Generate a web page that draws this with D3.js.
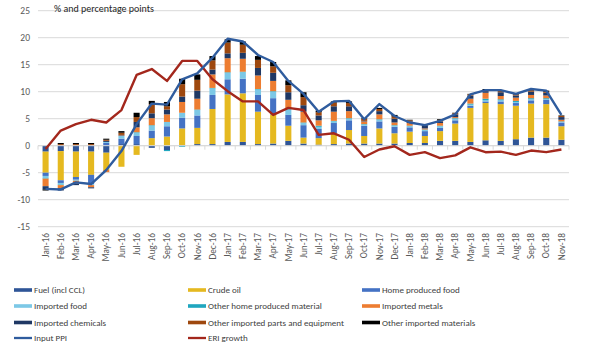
<!DOCTYPE html>
<html><head><meta charset="utf-8">
<script src="https://cdn.jsdelivr.net/npm/d3@7"></script>
<style>
body{margin:0;background:#fff;}
svg{display:block;font-family:Calibri,"Liberation Sans",Carlito,Arial,sans-serif;}
</style></head>
<body><svg id="c" width="600" height="356"></svg>
<script>
const months = ["Jan-16","Feb-16","Mar-16","Apr-16","May-16","Jun-16","Jul-16","Aug-16","Sep-16","Oct-16","Nov-16","Dec-16",
"Jan-17","Feb-17","Mar-17","Apr-17","May-17","Jun-17","Jul-17","Aug-17","Sep-17","Oct-17","Nov-17","Dec-17",
"Jan-18","Feb-18","Mar-18","Apr-18","May-18","Jun-18","Jul-18","Aug-18","Sep-18","Oct-18","Nov-18"];
const seriesNames = ["Fuel (incl CCL)","Crude oil","Home produced food","Imported food","Other home produced material","Imported metals","Imported chemicals","Other imported parts and equipment","Other imported materials"];
const fuel = [-1.1,-1.0,-1.1,-1.1,-1.3,0.3,0.3,-0.4,-0.8,0.1,0.3,0.3,0.7,0.7,0.3,0.4,0.9,0.4,0.2,0.3,0.4,0.4,0.4,0.4,0.5,0.5,0.9,0.9,0.7,1.0,0.9,1.2,1.5,1.5,1.1];
const crudeOil = [-3.9,-5.4,-4.7,-4.3,-3.2,-3.9,-1.7,1.4,1.7,3.1,3.0,6.5,8.8,9.0,6.0,5.4,2.8,1.1,1.2,2.0,2.5,1.4,2.8,1.9,2.1,1.3,1.8,3.2,6.3,6.9,6.8,6.2,6.3,6.2,2.5];
const homeFood = [-0.6,-0.5,-0.5,-1.7,0.5,1.0,1.5,1.4,1.9,2.0,2.3,2.6,2.8,2.7,3.1,3.0,2.0,2.3,1.7,1.9,1.8,1.9,1.3,1.2,0.8,0.9,0.6,0.6,0.4,0.3,0.5,0.5,0.6,0.8,0.7];
const importedFood = [-0.4,-0.3,-0.2,-0.2,0.2,0.5,0.6,0.9,0.8,0.9,1.0,1.2,1.2,1.2,1.0,1.2,1.0,0.4,0.4,0.3,0.3,0.2,0.3,0.2,0.2,0.2,0.3,0.3,0.2,0.2,0.2,0.2,0.2,0.1,0.1];
const otherHome = [-0.1,-0.1,0,0,0,0,0.1,0.1,-0.2,-0.2,0.1,0.1,0.1,0.1,0.1,0.1,0.1,0.1,0.2,0.1,0.1,0.1,0.1,0.1,0.1,0.1,0.1,0.1,0.2,0.3,0.2,0.2,0.2,0.2,0.1];
const importedMetals = [-1.4,-0.6,-0.5,-0.4,-0.4,0.1,0.9,1.3,1.4,2.0,2.0,2.5,2.6,2.4,2.5,1.9,1.7,2.0,1.0,1.7,1.3,0.5,0.9,0.5,0.5,0.2,0.5,0.2,0.9,1.1,0.6,0.6,0.6,0.5,0.3];
const importedChem = [-0.6,-0.4,-0.3,-0.2,0.2,0.1,1.0,0.9,0.9,1.0,1.5,0.9,0.9,1.1,1.4,1.5,1.4,1.2,0.9,1.0,0.9,0.1,0.6,0.7,0.3,0.6,0.3,0.5,0.6,0.3,0.7,0.4,0.6,0.5,0.5];
const otherParts = [0,0.3,0.3,0.3,0.2,0.4,0.9,1.7,0.6,2.3,2.0,1.7,2.0,1.5,1.5,1.2,1.3,1.5,0.6,0.7,0.6,0.4,0.4,0.4,0.2,0.1,0.2,0.2,0.2,0.2,0.2,0.2,0.3,0.2,0.2];
const otherImported = [-0.2,0.2,0.2,0.2,0.2,0.3,0.8,0.6,0.8,1.0,1.0,0.8,0.6,0.6,0.7,0.8,0.9,0.9,0.3,0.2,0.3,0.1,0.2,0.3,0.1,0.1,0.2,0.1,0.1,0.2,0.2,0.1,0.2,0.2,0.1];
const inputPPI = [-8.0,-8.1,-6.8,-7.1,-4.5,-1.0,4.0,7.8,7.6,12.3,13.4,16.3,19.8,19.3,16.8,15.5,12.0,9.6,6.3,8.2,8.3,4.9,7.7,5.5,4.3,3.8,4.6,5.8,9.5,10.3,10.3,9.6,10.5,10.2,5.7];
const eriGrowth = [-0.6,2.8,4.0,4.8,4.3,6.6,13.1,14.2,12.0,15.7,15.7,12.3,10.1,8.2,8.2,5.7,7.0,6.6,2.0,2.3,1.1,-2.1,-0.7,-0.1,-1.7,-1.2,-2.3,-1.8,-0.3,-1.2,-1.1,-1.7,-0.9,-1.2,-0.7];
const yTicks = [-15,-10,-5,0,5,10,15,20,25];

const seriesValues = [fuel,crudeOil,homeFood,importedFood,otherHome,importedMetals,importedChem,otherParts,otherImported];
const colors = ["#2F5597","#E5B920","#4472C4","#7CC8E6","#1FA6BF","#ED7D31","#1F3864","#9E480E","#000000"];
const lineColors = {ppi:"#2F5C9E", eri:"#A3271C"};

const svg = d3.select("#c");
const pLeft = 38, pRight = 569, pTop = 10.7, pBottom = 226.7;
const x = d3.scaleBand().domain(months).range([pLeft, pRight]).paddingInner(0.6).paddingOuter(0.3);
const y = d3.scaleLinear().domain([-15,25]).range([pBottom, pTop]);

// gridlines
svg.append("g").selectAll("line").data(yTicks).join("line")
  .attr("x1", pLeft).attr("x2", pRight)
  .attr("y1", d=>y(d)).attr("y2", d=>y(d))
  .attr("stroke", "#d9d9d9").attr("stroke-width", 1);

// y labels
svg.append("g").selectAll("text").data(yTicks).join("text")
  .attr("x", 30).attr("y", d=>y(d)+3.5).attr("text-anchor","end")
  .attr("font-size", 9.5).attr("fill", "#595959").text(d=>d);

// stacked bars
const rows = months.map((m,i)=>{ const r={month:m}; seriesValues.forEach((s,k)=>r[k]=s[i]); return r; });
const stack = d3.stack().keys(d3.range(seriesValues.length)).offset(d3.stackOffsetDiverging);
const layers = stack(rows);
const bw = Math.max(5.5, x.bandwidth());
const bandCenter = m => x(m) + x.bandwidth()/2;
svg.append("g").selectAll("g").data(layers).join("g")
  .attr("fill", (d,i)=>colors[i])
  .selectAll("rect").data(d=>d).join("rect")
  .attr("x", d=>bandCenter(d.data.month)-bw/2).attr("width", bw)
  .attr("y", d=>y(Math.max(d[0],d[1])))
  .attr("height", d=>Math.abs(y(d[0])-y(d[1])));

// category axis at zero
const ax = svg.append("g");
ax.append("line").attr("x1", pLeft).attr("x2", pRight).attr("y1", y(0)).attr("y2", y(0))
  .attr("stroke", "#d9d9d9").attr("stroke-width", 1);
ax.selectAll("line.tk").data(d3.range(months.length+1)).join("line").attr("class","tk")
  .attr("x1", i=>pLeft + i*(pRight-pLeft)/months.length).attr("x2", i=>pLeft + i*(pRight-pLeft)/months.length)
  .attr("y1", y(0)).attr("y2", y(0)+4).attr("stroke","#d9d9d9");

// x labels
svg.append("g").selectAll("text").data(months).join("text")
  .attr("transform", d=>`translate(${bandCenter(d)+3.2},233) rotate(-90)`)
  .attr("text-anchor","end").attr("font-size", 9.3).attr("fill","#595959").text(d=>d);

// lines
const line = d3.line().x((d,i)=>bandCenter(months[i])).y(d=>y(d));
svg.append("path").datum(eriGrowth).attr("d", line).attr("fill","none")
  .attr("stroke", lineColors.eri).attr("stroke-width", 2.4).attr("stroke-linejoin","round");
svg.append("path").datum(inputPPI).attr("d", line).attr("fill","none")
  .attr("stroke", lineColors.ppi).attr("stroke-width", 2.4).attr("stroke-linejoin","round");

// title
svg.append("text").attr("x", 54).attr("y", 11.5).attr("font-size", 10).attr("fill","#262626")
  .text("% and percentage points");

// legend
const legendItems = seriesNames.map((n,i)=>({name:n, color:colors[i], type:"rect"}))
  .concat([{name:"Input PPI", color:lineColors.ppi, type:"line"},{name:"ERI growth", color:lineColors.eri, type:"line"}]);
const colX = [14, 188, 362], rowY = [290, 306, 322.5, 338];
const lg = svg.append("g").selectAll("g").data(legendItems).join("g")
  .attr("transform", (d,i)=>`translate(${colX[i%3]},${rowY[Math.floor(i/3)]})`);
lg.filter(d=>d.type==="rect").append("rect").attr("x",0).attr("y",-1.8).attr("width",18).attr("height",3.6).attr("fill",d=>d.color);
lg.filter(d=>d.type==="line").append("line").attr("x1",0).attr("x2",18).attr("y1",0).attr("y2",0).attr("stroke",d=>d.color).attr("stroke-width",2.3);
lg.append("text").attr("x",20).attr("y",3.3).attr("font-size",9).attr("fill","#404040").text(d=>d.name);
</script></body></html>
